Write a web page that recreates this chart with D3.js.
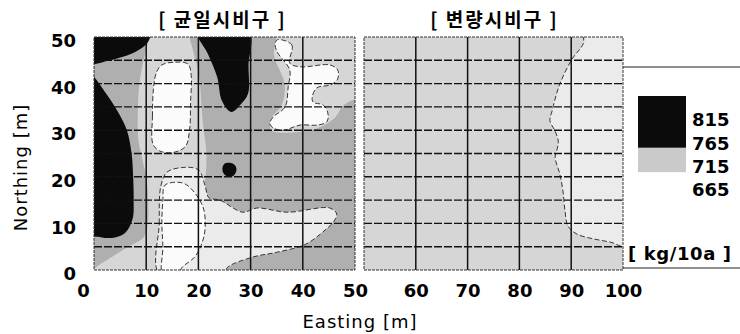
<!DOCTYPE html>
<html>
<head>
<meta charset="utf-8">
<script src="https://cdn.jsdelivr.net/npm/d3@7"></script>
<style>
  body { margin: 0; background: #fff; }
  svg { display: block; }
  .num { font-family: "DejaVu Sans", sans-serif; font-weight: bold; font-size: 18px; fill: #000; }
  .title { font-family: "Noto Sans CJK KR", sans-serif; font-weight: bold; font-size: 19px; letter-spacing: 2px; }
  .axlabel { font-family: "DejaVu Sans", sans-serif; font-size: 18px; letter-spacing: 1px; }
</style>
</head>
<body>
<svg id="chart" width="740" height="334"></svg>
<script>
// values, [easting m, northing m]
const titles = ['[ 균일시비구 ]', '[ 변량시비구 ]'];
const xTicksLeft = [0, 10, 20, 30, 40, 50];
const xTicksRight = [60, 70, 80, 90, 100];
const yTicks = [0, 10, 20, 30, 40, 50];
const gridEastLeft = [10, 20, 30, 40];
const gridEastRight = [60, 70, 80, 90];
const gridNorth = [5, 10, 15, 20, 25, 30, 35, 40, 45];
const legendValues = [815, 765, 715, 665];
const legendUnit = '[ kg/10a ]';

// uniform plot (left)
const darkZones = [
  [[-1, 51], [10.8, 51], [10.3, 48.5], [9.5, 45], [8.7, 40], [8.4, 34], [8.5, 28], [9.2, 24], [10, 20],
   [10.4, 15], [10.3, 10], [9.5, 7], [6.5, 5], [4, 3.2], [2, 1.8], [-1, 0.3]],
  [[18.6, 51], [34.5, 51], [34.5, 46], [36.5, 40], [36, 35.5], [34, 32.5], [34, 30], [38, 29.5], [43, 30.5],
   [46, 32.5], [48, 35.5], [51, 36.5], [51, -1], [25, -1], [25.5, 0.5], [30.5, 2.8], [35, 3.8], [40.5, 5.5],
   [44.5, 8.8], [46, 10.5], [46.5, 12], [45.2, 13.3], [37, 12.4], [31.2, 13.3], [28.5, 12.4], [24.1, 15],
   [22, 15.5], [21.3, 18], [21.5, 22], [21.5, 26], [21, 30], [20.6, 35], [20.3, 40], [19.7, 44], [19, 47]]
];
const lowZones = [
  [[12.6, -1], [12.5, 10], [12.8, 18], [14, 21], [17, 22], [20, 21.5], [21.3, 18], [22, 15.5], [24.1, 15],
   [28.5, 12.4], [31.2, 13.3], [37, 12.4], [45.2, 13.3], [46.5, 12], [46, 10.5], [44.5, 8.8], [40.5, 5.5],
   [35, 3.8], [30.5, 2.8], [25.5, 0.5], [25, -1]]
];
const whiteZones = [
  [[11.3, 27], [11.2, 33], [11.4, 39], [12, 42.5], [13, 44], [15.5, 44.6], [18, 44.2], [18.6, 42],
   [18.5, 36], [18.3, 30], [17.5, 26.5], [15, 25.2], [12.5, 25.6]],
  [[13.2, -1], [13.2, 5], [13, 10], [13.2, 15], [13.6, 18.2], [16.9, 18.7], [18.8, 17.2], [20.9, 13.5],
   [21.3, 9.2], [20.7, 5.8], [19.3, 2.8], [16.9, 0.6], [16, -1]],
  [[35.1, 49.4], [37.9, 48.3], [37.5, 44.4], [39.5, 43.6], [45.2, 44], [46.7, 42.9], [46.6, 40.8],
   [45.2, 39.7], [42.7, 39.1], [41.8, 37.1], [42, 36], [43.9, 35.4], [44.8, 33.7], [44.6, 31.8],
   [42.7, 31.1], [39.5, 31.1], [36.2, 30], [34.3, 30.5], [33.7, 31.5], [34.3, 32.8], [36.6, 35],
   [37.2, 39.3], [37.5, 42.9], [35.2, 46.6], [34.7, 48.3]]
];
const blackZones = [
  [[-1, 51], [10.7, 51], [10.3, 48.9], [7.9, 46.8], [3, 45], [-1, 44.4]],
  [[-1, 42.1], [2.1, 38.2], [4.6, 33.9], [6.3, 30], [7.2, 25], [7.5, 20], [7.6, 15], [7.4, 11], [6, 8],
   [4, 7], [1.5, 7], [-1, 7.9]],
  [[19.9, 51], [29.7, 51], [29.6, 44], [29.5, 37.8], [28, 35.4], [26.3, 33.9], [24.5, 36.3], [23.6, 41.4],
   [21.8, 46.4]],
  [[24.6, 21.8], [25, 22.8], [26, 23], [27, 22.5], [27.3, 21.5], [26.8, 20.3], [25.8, 20], [24.9, 20.6]]
];

// variable plot (right)
const rightLowZones = [
  [[92.7, 51], [101, 51], [101, 5.2], [97.5, 6], [94.2, 6.7], [91.1, 7.7], [89.4, 9.4], [88.8, 12.7],
   [88.4, 17], [87.8, 20.6], [86.9, 24.2], [87.3, 26], [87.5, 27.7], [86.9, 29.8], [85.9, 32], [86.3, 34.1],
   [87.8, 39.9], [90.2, 45.3], [92.3, 48.5]]
];

const svg = d3.select('#chart');

const xL = d3.scaleLinear().domain([0, 50]).range([94, 355]);
const xR = d3.scaleLinear().domain([50, 100]).range([364, 623]);
const y = d3.scaleLinear().domain([0, 50]).range([270, 37]);

const colors = {
  light: '#d6d6d6',
  dark: '#afafaf',
  low: '#ebebeb',
  white: '#fbfbfb',
  black: '#0b0b0b'
};

function drawPanel(id, x, domain) {
  const [e0, e1] = domain;
  svg.append('clipPath').attr('id', id)
    .append('rect')
    .attr('x', x(e0)).attr('y', y(50))
    .attr('width', x(e1) - x(e0)).attr('height', y(0) - y(50));

  const g = svg.append('g').attr('clip-path', `url(#${id})`);
  g.append('rect')
    .attr('x', x(e0)).attr('y', y(50))
    .attr('width', x(e1) - x(e0)).attr('height', y(0) - y(50))
    .attr('fill', colors.light);

  const line = d3.line()
    .x((d) => x(d[0]))
    .y((d) => y(d[1]))
    .curve(d3.curveCatmullRomClosed.alpha(0.5));
  return { g, line };
}

function zones(p, data, fill, stroke) {
  p.g.append('g').selectAll('path').data(data).join('path')
    .attr('d', p.line)
    .attr('fill', fill)
    .attr('stroke', stroke ? '#222' : 'none')
    .attr('stroke-width', 0.9)
    .attr('stroke-dasharray', '5 2.5');
}

function grid(p, x, domain, eastLines) {
  const [e0, e1] = domain;
  p.g.append('g').selectAll('line').data(gridNorth).join('line')
    .attr('x1', x(e0)).attr('x2', x(e1))
    .attr('y1', (d) => y(d)).attr('y2', (d) => y(d))
    .attr('stroke', '#111').attr('stroke-width', 1.4)
    .attr('stroke-dasharray', '8 2');
  p.g.append('g').selectAll('line').data(eastLines).join('line')
    .attr('x1', (d) => x(d)).attr('x2', (d) => x(d))
    .attr('y1', y(0)).attr('y2', y(50))
    .attr('stroke', '#111').attr('stroke-width', 1.5);
  svg.append('rect')
    .attr('x', x(e0)).attr('y', y(50))
    .attr('width', x(e1) - x(e0)).attr('height', y(0) - y(50))
    .attr('fill', 'none').attr('stroke', '#333').attr('stroke-width', 1)
    .attr('stroke-dasharray', '3 1');
}

// Left panel
const left = drawPanel('clipL', xL, [0, 50]);
zones(left, darkZones, colors.dark, false);
zones(left, lowZones, colors.low, true);
zones(left, whiteZones, colors.white, true);
zones(left, blackZones, colors.black, false);
grid(left, xL, [0, 50], gridEastLeft);

// Right panel
const right = drawPanel('clipR', xR, [50, 100]);
zones(right, rightLowZones, colors.low, true);
grid(right, xR, [50, 100], gridEastRight);

// Axes
function styleAxis(g) {
  g.attr('font-family', null).attr('font-size', null);
  g.select('.domain').remove();
  g.selectAll('text').attr('class', 'num').attr('fill', null);
}

svg.append('g')
  .attr('transform', `translate(${xL(0)},4)`)
  .call(d3.axisLeft(y).tickValues(yTicks).tickSize(0).tickPadding(18))
  .call(styleAxis);

svg.append('g')
  .attr('transform', `translate(0,${y(0)})`)
  .call(d3.axisBottom(xL).tickValues(xTicksLeft).tickSize(0).tickPadding(14))
  .call(styleAxis)
  .selectAll('text').attr('dx', (d) => d === 0 ? -11 : 0);

svg.append('g')
  .attr('transform', `translate(0,${y(0)})`)
  .call(d3.axisBottom(xR).tickValues(xTicksRight).tickSize(0).tickPadding(14))
  .call(styleAxis);

// Titles
svg.append('g').selectAll('text').data(titles).join('text')
  .attr('class', 'title')
  .attr('text-anchor', 'middle')
  .attr('x', (d, i) => i === 0 ? xL(25) - 2 : xR(75) + 1)
  .attr('y', 27)
  .text((d) => d);

// Axis labels
svg.append('text')
  .attr('class', 'axlabel')
  .attr('text-anchor', 'middle')
  .attr('x', 360).attr('y', 328)
  .text('Easting [m]');

svg.append('text')
  .attr('class', 'axlabel')
  .attr('text-anchor', 'middle')
  .attr('transform', `translate(27,${(y(0) + y(50)) / 2 + 14}) rotate(-90)`)
  .text('Northing [m]');

// Legend
const ly = d3.scaleLinear().domain([815, 665]).range([120, 190]);
const legend = svg.append('g');
legend.append('line')
  .attr('x1', xR(100)).attr('x2', 740).attr('y1', 67).attr('y2', 67)
  .attr('stroke', '#222').attr('stroke-width', 1.2);
legend.append('line')
  .attr('x1', xR(100)).attr('x2', 740).attr('y1', 268).attr('y2', 268)
  .attr('stroke', '#222').attr('stroke-width', 1.2);
legend.append('rect')
  .attr('x', 638).attr('width', 48)
  .attr('y', ly(815) - 24).attr('height', ly(765) + 4.5 - (ly(815) - 24))
  .attr('fill', colors.black);
legend.append('rect')
  .attr('x', 638).attr('width', 48)
  .attr('y', ly(765) + 4.5).attr('height', ly(715) - ly(765) + 1)
  .attr('fill', '#cacaca');
legend.selectAll('text.num').data(legendValues).join('text')
  .attr('class', 'num')
  .attr('x', 692)
  .attr('y', (d) => ly(d))
  .attr('dy', '0.36em')
  .text((d) => d);
legend.append('text')
  .attr('class', 'num')
  .attr('x', 628).attr('y', 260)
  .style('letter-spacing', '0.6px')
  .text(legendUnit);
</script>
</body>
</html>
